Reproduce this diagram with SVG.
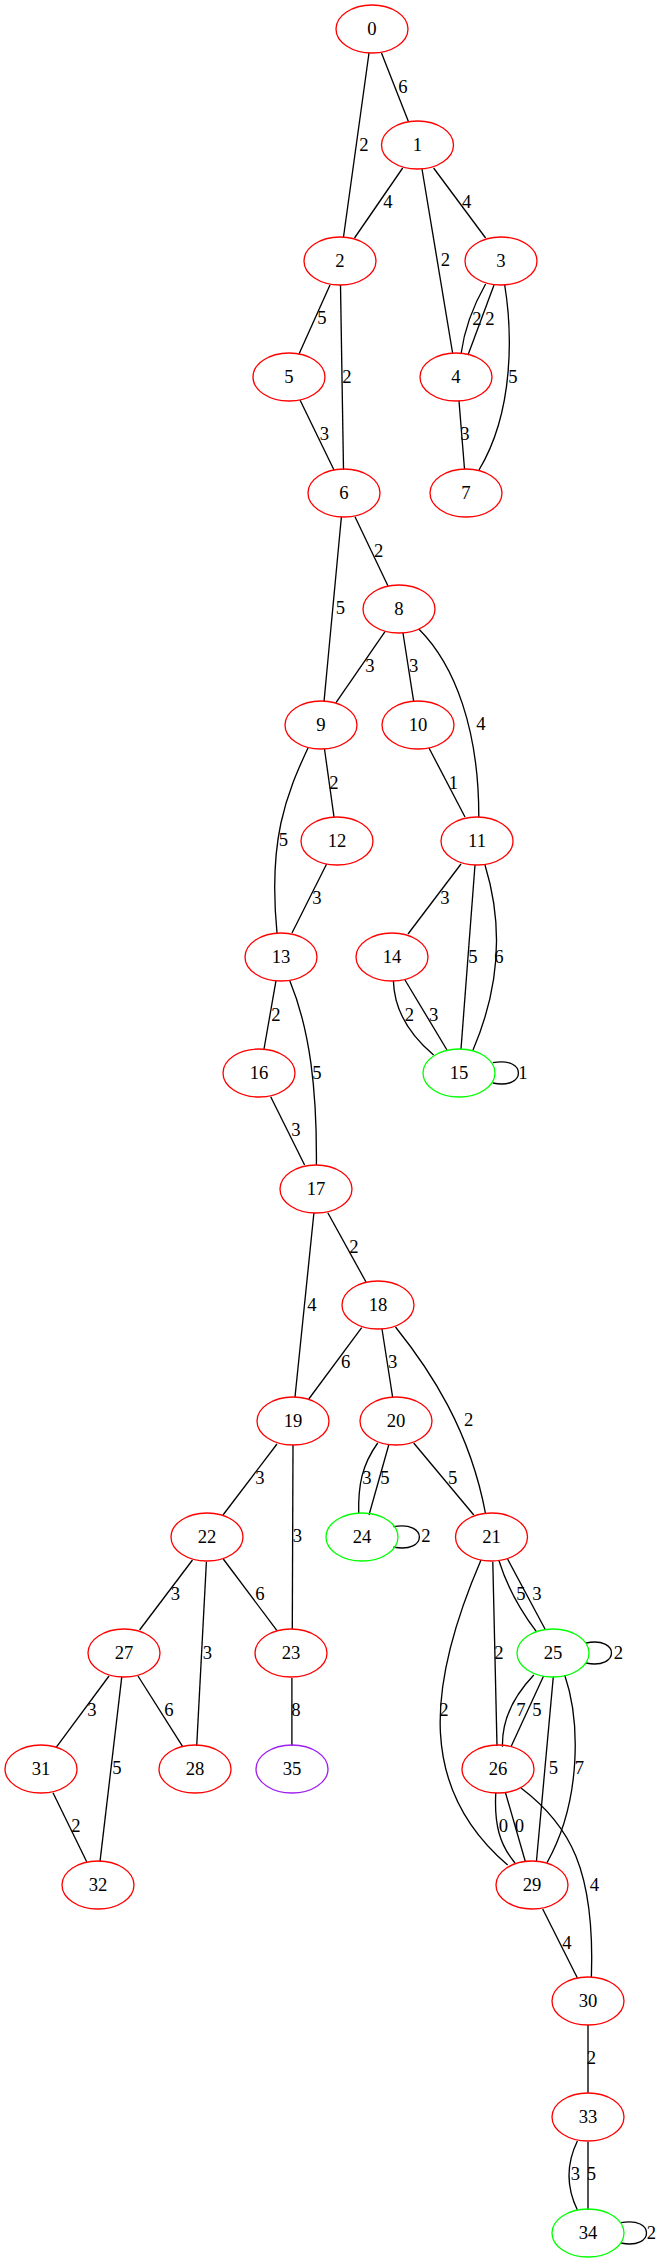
<svg xmlns="http://www.w3.org/2000/svg" width="660" height="2263" viewBox="0 0 660 2263">
<style>
.n ellipse{fill:none;stroke-width:1.33}
.r ellipse{stroke:#ff0000}
.g ellipse{stroke:#00ff00}
.p ellipse{stroke:#a020f0}
text{font-family:"Liberation Serif","Times New Roman",serif;font-size:18.67px;fill:#000;text-anchor:middle}
#edges path{fill:none;stroke:#000;stroke-width:1.33}
</style>
<rect width="660" height="2263" fill="#fff"/>
<g id="edges">
<path d="M369,53 L343.5,237"/><text x="364" y="151">2</text>
<path d="M381.5,53 L408.6,122"/><text x="403" y="93">6</text>
<path d="M402.7,168 L354.5,238"/><text x="388" y="208">4</text>
<path d="M422,169 L452.6,353"/><text x="445.4" y="266">2</text>
<path d="M433.6,168 L485.6,238"/><text x="466.6" y="208">4</text>
<path d="M485.6,284 Q465.7,319 461,354"/><text x="477" y="325">2</text>
<path d="M494,285 L468,355"/><text x="490" y="325">2</text>
<path d="M504.7,285 C512,330 515,410 479,470"/><text x="513" y="383">5</text>
<path d="M330,285 L299,354"/><text x="322" y="324">5</text>
<path d="M340.5,285 L343.5,470"/><text x="347" y="383">2</text>
<path d="M300,400 L334,470"/><text x="324.5" y="440">3</text>
<path d="M459,401 L464.5,469"/><text x="465" y="440">3</text>
<path d="M341.4,516.7 L324,701.7"/><text x="340.5" y="614">5</text>
<path d="M355,516.7 L388,586"/><text x="378.6" y="557">2</text>
<path d="M385,631.7 L336,702.7"/><text x="370" y="672">3</text>
<path d="M403,633 L413.7,701.7"/><text x="413.7" y="672">3</text>
<path d="M418.8,629 C455,665 479,730 478.8,817"/><text x="481" y="730">4</text>
<path d="M308,748 C286,795 268,840 277,933"/><text x="283.4" y="846">5</text>
<path d="M324.5,749 L334,817"/><text x="334" y="789">2</text>
<path d="M429,748 L465,817"/><text x="453.5" y="789">1</text>
<path d="M326.6,864 L292,933"/><text x="317" y="904">3</text>
<path d="M461,864 L408,934"/><text x="445" y="904">3</text>
<path d="M475,865 L461,1049"/><text x="473" y="963">5</text>
<path d="M485,865 Q513,956.5 473,1050"/><text x="499" y="963">6</text>
<path d="M393.4,980.7 Q394.5,1022 433.6,1055"/><text x="409.5" y="1021">2</text>
<path d="M405,980 L447,1050"/><text x="433.6" y="1021">3</text>
<path d="M492.8,1062.7 C527,1056 527,1090 492.8,1083"/><text x="523" y="1079">1</text>
<path d="M276,980.7 L264,1049"/><text x="276" y="1021">2</text>
<path d="M289.8,980.7 C310,1030 317,1090 316.4,1165"/><text x="317" y="1079">5</text>
<path d="M270.7,1096.7 L304.6,1165"/><text x="296" y="1136">3</text>
<path d="M313.9,1213 L295,1397"/><text x="312" y="1311">4</text>
<path d="M327.8,1212.7 L366,1282"/><text x="354" y="1253">2</text>
<path d="M361.7,1327.7 L308.8,1399"/><text x="345.6" y="1368">6</text>
<path d="M382,1329 L392.6,1397"/><text x="392.6" y="1368">3</text>
<path d="M395.5,1327 C430,1370 470,1430 485.6,1514"/><text x="468.7" y="1426">2</text>
<path d="M277,1444 L223,1515"/><text x="260" y="1484">3</text>
<path d="M293,1445 L292.3,1629"/><text x="297.4" y="1542">3</text>
<path d="M377.7,1443 C362,1465 358,1485 358.7,1514"/><text x="366.8" y="1484">3</text>
<path d="M389,1444 L369,1515"/><text x="385" y="1484">5</text>
<path d="M413.7,1443 L473.8,1515"/><text x="452.6" y="1484">5</text>
<path d="M393.4,1526.7 C428,1520 428,1554 393.4,1547"/><text x="426" y="1542">2</text>
<path d="M192.5,1560 L139.6,1630"/><text x="175.5" y="1600">3</text>
<path d="M206.4,1561.7 L196.7,1746"/><text x="207.3" y="1659">3</text>
<path d="M223.3,1559 L277,1630.7"/><text x="260" y="1600">6</text>
<path d="M499,1560.7 Q510.3,1597 536.4,1631.7"/><text x="521" y="1600">5</text>
<path d="M507.6,1559 L545,1629"/><text x="537" y="1600">3</text>
<path d="M492.8,1561.7 L497,1746"/><text x="499" y="1659">2</text>
<path d="M481,1560 C425,1690 420,1790 507.6,1865"/><text x="444" y="1716">2</text>
<path d="M585.9,1643 C620,1636 620,1670 585.9,1663"/><text x="618.5" y="1659">2</text>
<path d="M533.8,1675 Q501.4,1709 502.5,1746.7"/><text x="521" y="1716">7</text>
<path d="M543.6,1676 L511,1746.7"/><text x="537" y="1716">5</text>
<path d="M553.3,1676.7 L536.4,1861.7"/><text x="553.3" y="1774">5</text>
<path d="M564.7,1675 C580,1720 582,1800 547,1862.7"/><text x="579.5" y="1774">7</text>
<path d="M291.9,1678 L291.9,1746"/><text x="296" y="1716">8</text>
<path d="M109,1676 L56,1747.7"/><text x="92" y="1716">3</text>
<path d="M121.8,1676.7 L100,1861.7"/><text x="117" y="1774">5</text>
<path d="M138,1676 L182.7,1746.7"/><text x="169" y="1716">6</text>
<path d="M53,1792.7 L86.7,1861.7"/><text x="76" y="1832">2</text>
<path d="M495.8,1792.7 C494,1825 500,1845 515,1863"/><text x="503.4" y="1832">0</text>
<path d="M505.5,1792.7 L525.4,1861.7"/><text x="519.5" y="1832">0</text>
<path d="M521,1788 C570,1825 595,1870 591.4,1977"/><text x="594.3" y="1891">4</text>
<path d="M542.7,1909 L577.4,1978"/><text x="566.8" y="1949">4</text>
<path d="M588,2025 L588,2093"/><text x="591.4" y="2064">2</text>
<path d="M577.4,2141 Q560.6,2175.5 577.4,2210"/><text x="575.3" y="2180">3</text>
<path d="M588,2141.7 L588,2210"/><text x="591.4" y="2180">5</text>
<path d="M621,2222.7 C655,2216 655,2250 621,2243"/><text x="651.4" y="2239">2</text>
</g>
<g id="n0" class="n r"><ellipse cx="372" cy="29" rx="36" ry="24"/><text x="372" y="35">0</text></g>
<g id="n1" class="n r"><ellipse cx="417.5" cy="145" rx="36" ry="24"/><text x="417.5" y="151">1</text></g>
<g id="n2" class="n r"><ellipse cx="340" cy="261" rx="36" ry="24"/><text x="340" y="267">2</text></g>
<g id="n3" class="n r"><ellipse cx="501" cy="261" rx="36" ry="24"/><text x="501" y="267">3</text></g>
<g id="n5" class="n r"><ellipse cx="289" cy="377" rx="36" ry="24"/><text x="289" y="383">5</text></g>
<g id="n4" class="n r"><ellipse cx="456" cy="377" rx="36" ry="24"/><text x="456" y="383">4</text></g>
<g id="n6" class="n r"><ellipse cx="344" cy="493" rx="36" ry="24"/><text x="344" y="499">6</text></g>
<g id="n7" class="n r"><ellipse cx="466" cy="493" rx="36" ry="24"/><text x="466" y="499">7</text></g>
<g id="n8" class="n r"><ellipse cx="399" cy="609" rx="36" ry="24"/><text x="399" y="615">8</text></g>
<g id="n9" class="n r"><ellipse cx="321" cy="725" rx="36" ry="24"/><text x="321" y="731">9</text></g>
<g id="n10" class="n r"><ellipse cx="418" cy="725" rx="36" ry="24"/><text x="418" y="731">10</text></g>
<g id="n12" class="n r"><ellipse cx="337" cy="841" rx="36" ry="24"/><text x="337" y="847">12</text></g>
<g id="n11" class="n r"><ellipse cx="477" cy="841" rx="36" ry="24"/><text x="477" y="847">11</text></g>
<g id="n13" class="n r"><ellipse cx="281" cy="957" rx="36" ry="24"/><text x="281" y="963">13</text></g>
<g id="n14" class="n r"><ellipse cx="392" cy="957" rx="36" ry="24"/><text x="392" y="963">14</text></g>
<g id="n16" class="n r"><ellipse cx="259" cy="1073" rx="36" ry="24"/><text x="259" y="1079">16</text></g>
<g id="n15" class="n g"><ellipse cx="459" cy="1073" rx="36" ry="24"/><text x="459" y="1079">15</text></g>
<g id="n17" class="n r"><ellipse cx="316" cy="1189" rx="36" ry="24"/><text x="316" y="1195">17</text></g>
<g id="n18" class="n r"><ellipse cx="378" cy="1305" rx="36" ry="24"/><text x="378" y="1311">18</text></g>
<g id="n19" class="n r"><ellipse cx="293" cy="1421" rx="36" ry="24"/><text x="293" y="1427">19</text></g>
<g id="n20" class="n r"><ellipse cx="396" cy="1421" rx="36" ry="24"/><text x="396" y="1427">20</text></g>
<g id="n22" class="n r"><ellipse cx="207" cy="1537" rx="36" ry="24"/><text x="207" y="1543">22</text></g>
<g id="n24" class="n g"><ellipse cx="362" cy="1537" rx="36" ry="24"/><text x="362" y="1543">24</text></g>
<g id="n21" class="n r"><ellipse cx="491.5" cy="1537" rx="36" ry="24"/><text x="491.5" y="1543">21</text></g>
<g id="n27" class="n r"><ellipse cx="124" cy="1653" rx="36" ry="24"/><text x="124" y="1659">27</text></g>
<g id="n23" class="n r"><ellipse cx="291" cy="1653" rx="36" ry="24"/><text x="291" y="1659">23</text></g>
<g id="n25" class="n g"><ellipse cx="553" cy="1653" rx="36" ry="24"/><text x="553" y="1659">25</text></g>
<g id="n31" class="n r"><ellipse cx="41" cy="1769" rx="36" ry="24"/><text x="41" y="1775">31</text></g>
<g id="n28" class="n r"><ellipse cx="195" cy="1769" rx="36" ry="24"/><text x="195" y="1775">28</text></g>
<g id="n35" class="n p"><ellipse cx="292" cy="1769" rx="36" ry="24"/><text x="292" y="1775">35</text></g>
<g id="n26" class="n r"><ellipse cx="498" cy="1769" rx="36" ry="24"/><text x="498" y="1775">26</text></g>
<g id="n32" class="n r"><ellipse cx="98" cy="1885" rx="36" ry="24"/><text x="98" y="1891">32</text></g>
<g id="n29" class="n r"><ellipse cx="532" cy="1885" rx="36" ry="24"/><text x="532" y="1891">29</text></g>
<g id="n30" class="n r"><ellipse cx="588" cy="2001" rx="36" ry="24"/><text x="588" y="2007">30</text></g>
<g id="n33" class="n r"><ellipse cx="588" cy="2117" rx="36" ry="24"/><text x="588" y="2123">33</text></g>
<g id="n34" class="n g"><ellipse cx="588" cy="2233" rx="36" ry="24"/><text x="588" y="2239">34</text></g>
</svg>
